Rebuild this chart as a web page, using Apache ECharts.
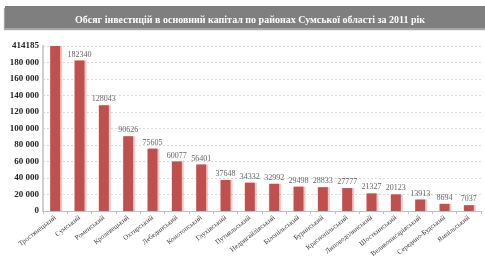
<!DOCTYPE html>
<html>
<head>
<meta charset="utf-8">
<script src="https://cdn.jsdelivr.net/npm/echarts@6/dist/echarts.min.js"></script>
<style>
  html, body { margin: 0; padding: 0; background: #fff; }
  #chart { width: 485px; height: 270px; }
</style>
</head>
<body>
<div id="chart"></div>
<script>
// райони Сумської області
const districts = [
  "Тростянецький", "Сумський", "Роменський", "Кролевецький", "Охтирський",
  "Лебединський", "Конотопський", "Глухівський", "Путивльський", "Недригайлівський",
  "Білопільський", "Буринський", "Краснопільський", "Липоводолинський",
  "Шосткинський", "Великописарівський", "Середино-Будський", "Ямпільський"
];
// обсяг інвестицій, тис. грн
const investments = [
  414185, 182340, 128043, 90626, 75605, 60077, 56401, 37648, 34332,
  32992, 29498, 28833, 27777, 21327, 20123, 13913, 8694, 7037
];
// вісь обрізана на 200000, верхня позначка показує перший стовпчик
const axisMax = 200000;
const axisStep = 20000;
const topTickLabel = "414185";

const fmt = (v) => String(v).replace(/\B(?=(\d{3})+(?!\d))/g, "\u00a0");

let myChart = echarts.init(document.getElementById("chart"));
let option = {
  animation: false,
  backgroundColor: "#fff",
  title: {
    text: "Обсяг інвестицій в основний капітал по районах Сумської області за 2011 рік",
    left: 245,
    textAlign: "center",
    top: 10,
    textStyle: {
      fontFamily: "Liberation Serif",
      fontWeight: "bold",
      fontSize: 10,
      color: "#fff",
    },
  },
  graphic: [
    {
      type: "rect",
      z: -1,
      shape: { x: 5, y: 6, width: 482, height: 22 },
      style: {
        fill: "#7f7f7f",
        shadowColor: "rgba(0,0,0,0.35)",
        shadowOffsetX: -1,
        shadowOffsetY: 2,
        shadowBlur: 1,
      },
    },
  ],
  grid: {
    left: 43,
    right: 4,
    top: 46,
    bottom: 59,
  },
  xAxis: {
    type: "category",
    data: districts,
    axisLine: { lineStyle: { color: "#bfbfbf" } },
    axisTick: { show: true, length: 3, lineStyle: { color: "#bfbfbf" } },
    axisLabel: {
      rotate: 38,
      interval: 0,
      fontSize: 7,
      margin: 6,
      color: "#404040",
      fontFamily: "Liberation Serif",
    },
  },
  yAxis: {
    type: "value",
    min: 0,
    max: axisMax,
    interval: axisStep,
    axisLine: { show: true, lineStyle: { color: "#d0d0d0", width: 2 } },
    axisTick: { show: false },
    splitLine: { lineStyle: { color: "#d9d9d9", type: [2, 2] } },
    axisLabel: {
      margin: 4,
      fontSize: 9,
      fontWeight: "bold",
      fontFamily: "Liberation Serif",
      color: "#262626",
      formatter: (v) => (v === axisMax ? topTickLabel : fmt(v)),
    },
  },
  series: [
    {
      type: "bar",
      clip: true,
      barWidth: 10,
      data: investments.map((v, i) =>
        i === 0 ? { value: v, label: { show: false } } : v
      ),
      itemStyle: {
        color: "#c0504d",
        shadowColor: "rgba(214,120,118,0.4)",
        shadowOffsetX: 2,
        shadowOffsetY: 0,
        shadowBlur: 0,
      },
      label: {
        show: true,
        position: "top",
        distance: 2,
        fontSize: 8,
        fontFamily: "Liberation Serif",
        color: "#666",
      },
    },
  ],
};
myChart.setOption(option);
</script>
</body>
</html>
